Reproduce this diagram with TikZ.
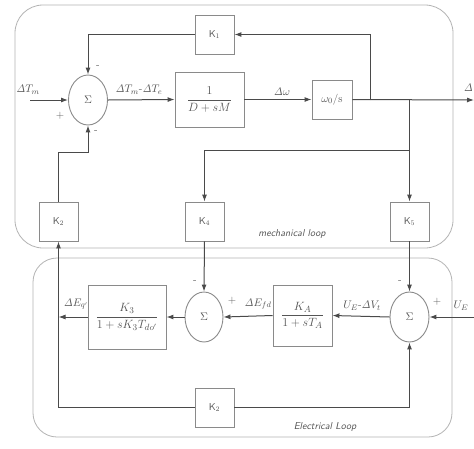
\documentclass[tikz,border=0pt]{standalone}
\usetikzlibrary{shapes.geometric,arrows.meta}
\definecolor{ln}{HTML}{4A4A4A}
\definecolor{bx}{HTML}{8A8A8A}
\definecolor{lp}{HTML}{B4B4B4}
\definecolor{tx}{HTML}{555555}
\newcommand{\Dl}{\mathit{\Delta}}
\begin{document}
\begin{tikzpicture}[x=1pt,y=-1pt,
  blk/.style={draw=bx,line width=0.9pt,rectangle,inner sep=0pt,text=tx,font=\sffamily\fontsize{10}{12}\selectfont},
  sumn/.style={draw=bx,line width=0.9pt,ellipse,inner sep=0pt,minimum width=39pt,minimum height=50pt,text=tx,font=\fontsize{11}{13}\selectfont},
  con/.style={draw=ln,line width=1pt,-{Latex[length=7pt,width=5pt]}},
  pl/.style={draw=ln,line width=1pt},
  lbl/.style={text=tx,font=\fontsize{11}{13}\selectfont,inner sep=0pt},
  sgn/.style={text=tx,font=\fontsize{11}{12}\selectfont,inner sep=0pt},
  loop/.style={draw=lp,line width=0.8pt,rounded corners=28pt},
  looplbl/.style={text=tx,font=\sffamily\itshape\fontsize{10}{12}\selectfont,inner sep=0pt},
  frac/.style={font=\fontsize{12.5}{15}\selectfont}]
\useasboundingbox (0,0) rectangle (474,448);
\fill[white] (0,0) rectangle (474,448);
% loops
\draw[loop] (15,5) rectangle (453,248);
\draw[loop,rounded corners=24pt] (33,258) rectangle (452,437);
\node[looplbl] (ml) at (292,234) {mechanical loop};
\node[looplbl] (el) at (325,427) {Electrical Loop};
% nodes
\node[sumn] (sA) at (88,100) {$\Sigma$};
\node[blk,frac,minimum width=69pt,minimum height=55pt] (G1) at (209.5,99.5) {$\displaystyle\frac{1}{D+sM}$};
\node[blk,minimum width=40pt,minimum height=39pt,font=\fontsize{11}{13}\selectfont] (W) at (332,99.5) {$\omega_0$/s};
\node[blk,minimum width=39pt,minimum height=39pt] (K1) at (214.5,34.5) {K$_1$};
\node[blk,minimum width=39pt,minimum height=39pt] (K2a) at (58.5,221.5) {K$_2$};
\node[blk,minimum width=39pt,minimum height=39pt] (K4) at (204.5,221.5) {K$_4$};
\node[blk,minimum width=39pt,minimum height=39pt] (K5) at (409.5,221.5) {K$_5$};
\node[sumn,minimum width=38pt] (sB) at (204,317) {$\Sigma$};
\node[blk,frac,minimum width=59pt,minimum height=61pt] (GA) at (302.5,315.5) {$\displaystyle\frac{K_A}{1+sT_A}$};
\node[sumn] (sC) at (409.5,317) {$\Sigma$};
\node[blk,frac,minimum width=78pt,minimum height=64pt] (G3) at (127,317) {$\displaystyle\frac{K_3}{1+sK_3T_{do'}}$};
\node[blk,minimum width=39pt,minimum height=39pt] (K2b) at (214.5,407.5) {K$_2$};
% coordinates
\coordinate (inT) at (30,100);
\coordinate (outW) at (474,100);
\coordinate (jA) at (370,100);
\coordinate (jB) at (409.5,100);
\coordinate (jC) at (409.5,150);
\coordinate (cA) at (88,152);
\coordinate (inU) at (474,317);
\coordinate (jE) at (58.5,317);
% connectors
\draw[con] (inT) -- (sA.west);
\draw[con] (sA.east) -- (G1.west);
\draw[con] (G1.east) -- (W.west);
\draw[con] (W.east) -- (outW);
\draw[con] (jA) |- (K1.east);
\draw[con] (K1.west) -| (sA.north);
\draw[con] (jB) -- (K5.north);
\draw[con] (jC) -| (K4.north);
\draw[con] (K2a.north) |- (cA) -- (sA.south);
\draw[con] (K4.south) -- (sB.north);
\draw[con] (K5.south) -- (sC.north);
\draw[con] (inU) -- (sC.east);
\draw[con] (sC.west) -- (GA.east);
\draw[con] (GA.west) -- (sB.east);
\draw[con] (sB.west) -- (G3.east);
\draw[con] (G3.west) -- (jE);
\draw[con] (jE) -- (K2a.south);
\draw[pl] (jE) |- (K2b.west);
\draw[con] (K2b.east) -| (sC.south);
% labels
\node[lbl] (lT) at (28,90) {$\Dl T_m$};
\node[lbl] (lTe) at (139,90) {$\Dl T_m$-$\Dl T_e$};
\node[lbl] (lw) at (282,92) {$\Dl\omega$};
\node[lbl,anchor=east] (lo) at (473,88) {$\Dl$};
\node[lbl] (lEq) at (76,304) {$\Dl E_{q'}$};
\node[lbl] (lEf) at (258,304) {$\Dl E_{fd}$};
\node[lbl] (lU) at (362,306) {$U_E$-$\Dl V_t$};
\node[lbl] (lUE) at (461,306) {$U_E$};
% signs
\node[sgn] at (60,116) {+};
\node[sgn] at (98,67) {-};
\node[sgn] at (96,132) {-};
\node[sgn] at (195,282) {-};
\node[sgn] at (232,301) {+};
\node[sgn] at (400,282) {-};
\node[sgn] at (437,302) {+};
\end{tikzpicture}
\end{document}
